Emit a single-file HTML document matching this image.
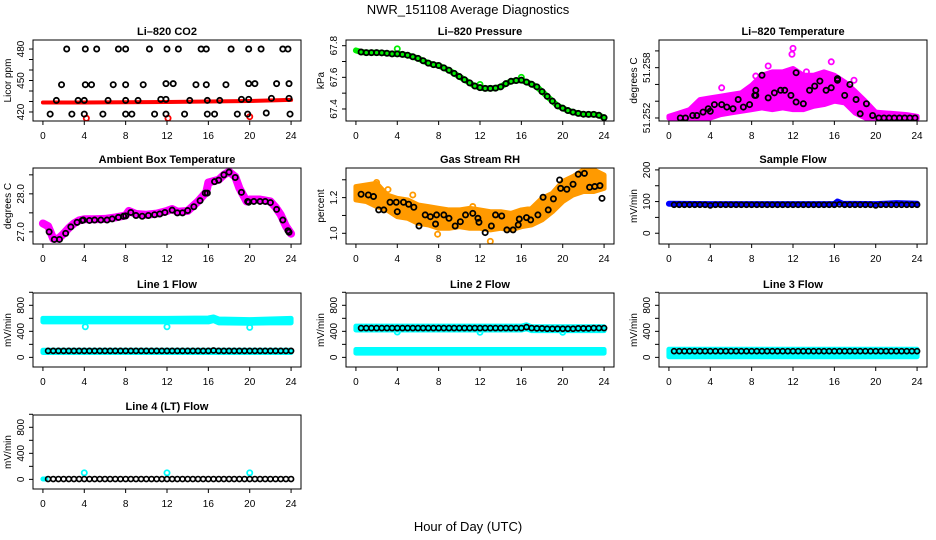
<!DOCTYPE html>
<html><head><meta charset="utf-8"><title>NWR_151108 Average Diagnostics</title>
<style>
html,body{margin:0;padding:0;background:#fff;}
svg{display:block;font-family:"Liberation Sans",sans-serif;}
</style></head>
<body>
<svg id="chart" width="936" height="540" viewBox="0 0 936 540">
<text x="468" y="14" font-size="13" text-anchor="middle">NWR_151108  Average Diagnostics</text>
<text x="468" y="531" font-size="13" text-anchor="middle">Hour of Day (UTC)</text>
</svg>
<script>
// ---------- data ----------
const xTicks = [0,4,8,12,16,20,24];
const halfHours = [0.5,1,1.5,2,2.5,3,3.5,4,4.5,5,5.5,6,6.5,7,7.5,8,8.5,9,9.5,10,10.5,11,11.5,12,12.5,13,13.5,14,14.5,15,15.5,16,16.5,17,17.5,18,18.5,19,19.5,20,20.5,21,21.5,22,22.5,23,23.5,24];
const bandHours = [0,1,2,3,4,5,6,7,8,9,10,11,12,13,14,15,16,17,18,19,20,21,22,23,24];

// CO2
const co2BlackHours = [2.3,4.1,5.2,7.3,8.0,10.3,12.0,13.1,15.3,15.8,18.2,19.9,21.1,23.2,23.7,
  1.8,4.1,4.7,6.8,8.0,9.7,11.9,12.6,14.8,15.8,17.7,19.9,20.5,22.6,23.8,
  1.3,3.4,4.0,6.3,8.0,9.2,11.4,11.9,14.2,15.9,17.1,19.2,19.9,22.1,23.8,
  0.7,2.8,4.0,5.8,8.0,8.6,10.8,11.9,13.7,15.9,16.6,18.8,19.8,21.6,23.9];
const co2BlackVals = [480,480,480,480,480,480,480,480,480,480,480,480,480,480,480,
  446,446,446,446,446,446,447,447,446,446,446,447,447,447,447,
  431,431,431,431,431,431,432,432,431,431,431,432,432,433,433,
  418,418,418,418,418,418,418,418,418,418,418,418,418,419,418];
const co2RedHours = [0,4,8,12,16,20,24];
const co2RedVals = [429,429,429.3,429.5,430,430.5,431.5];
const co2OutHours = [4.2,12.1,20.0];
const co2OutVals = [414,414,415.5];

// Pressure
const presHours = [0,0.5,1,1.5,2,2.5,3,3.5,4,4.5,5,5.5,6,6.5,7,7.5,8,8.5,9,9.5,10,10.5,11,11.5,12,12.5,13,13.5,14,14.5,15,15.5,16,16.5,17,17.5,18,18.5,19,19.5,20,20.5,21,21.5,22,22.5,23,23.5,24];
const presVals = [67.77,67.76,67.756,67.756,67.756,67.755,67.752,67.748,67.748,67.745,67.74,67.73,67.72,67.705,67.69,67.68,67.675,67.66,67.645,67.625,67.605,67.585,67.565,67.545,67.535,67.53,67.53,67.532,67.54,67.56,67.575,67.58,67.582,67.57,67.556,67.54,67.51,67.48,67.45,67.42,67.405,67.39,67.38,67.372,67.367,67.366,67.366,67.36,67.345];
const presSpikeHours = [4.0,12.0,16.0];
const presSpikeVals = [67.78,67.555,67.6];

// Li-820 temperature
const tLow = [51.2520,51.2519,51.2519,51.2520,51.2520,51.2524,51.2526,51.2528,51.2530,51.2532,51.2530,51.2532,51.2530,51.2530,51.2534,51.2536,51.2540,51.2538,51.2526,51.2520,51.2519,51.2519,51.2519,51.2519,51.2519];
const tHigh = [51.2522,51.2526,51.2530,51.2542,51.2544,51.2546,51.2548,51.2550,51.2559,51.2571,51.2575,51.2575,51.2579,51.2571,51.2571,51.2575,51.2571,51.2563,51.2552,51.2540,51.2527,51.2526,51.2525,51.2524,51.2522];
const tOutHours = [12.0,11.9,15.7,9.6,5.1,8.4,13.3,17.9];
const tOutVals = [51.2603,51.2596,51.2587,51.2582,51.2556,51.2570,51.2575,51.2565];
const tBlackHours = [1.1,1.6,2.3,2.7,3.3,3.8,4.0,4.4,5.1,5.6,6.2,6.7,7.2,7.8,8.3,8.4,8.4,9.0,9.6,10.2,10.8,11.2,11.8,12.3,12.3,13.0,13.6,14.1,14.6,15.2,15.7,16.3,16.3,17.0,17.5,18.1,18.5,19.1,19.7,20.3,20.8,21.3,21.8,22.3,22.8,23.3,23.8];
const tBlackVals = [51.2520,51.2520,51.2523,51.2523,51.2527,51.2531,51.2528,51.2536,51.2536,51.2533,51.2531,51.2542,51.2533,51.2536,51.2547,51.2553,51.2547,51.2571,51.2544,51.2550,51.2553,51.2553,51.2547,51.2574,51.2539,51.2537,51.2553,51.2558,51.2564,51.2553,51.2556,51.2567,51.2565,51.2547,51.2560,51.2542,51.2525,51.2537,51.2523,51.2520,51.2520,51.2520,51.2520,51.2520,51.2520,51.2520,51.2520];

// Ambient box temperature
const ambLineHours = [0,0.5,1,1.5,2,2.5,3,3.5,4,5,6,7,8,8.3,9,10,11,12,12.5,13,14,15,15.8,16,17,17.5,18,18.6,19,19.7,20,21,22,22.5,23,23.5,24];
const ambLineVals = [27.22,27.15,26.82,26.82,26.95,27.1,27.22,27.3,27.33,27.33,27.34,27.38,27.43,27.55,27.47,27.45,27.48,27.55,27.6,27.53,27.55,27.8,28.05,28.3,28.37,28.5,28.58,28.45,28.15,27.8,27.85,27.85,27.8,27.65,27.45,27.15,26.95];
const ambBlackHours = [0.6,1.1,1.6,2.2,2.7,3.3,3.8,3.9,4.5,5.0,5.6,6.2,6.7,7.3,7.8,8.0,8.5,9.0,9.6,10.2,10.8,11.3,11.8,12.5,13.0,13.5,14.0,14.6,15.2,15.7,15.9,16.6,17.0,17.5,18.0,18.6,19.2,19.8,19.9,20.4,21.0,21.5,22.0,22.6,23.2,23.7,23.8];
const ambBlackVals = [27.0,26.8,26.8,26.96,27.13,27.25,27.3,27.31,27.3,27.31,27.31,27.31,27.34,27.38,27.41,27.42,27.51,27.43,27.41,27.43,27.45,27.47,27.51,27.57,27.5,27.5,27.56,27.66,27.82,28.02,28.02,28.32,28.36,28.5,28.57,28.43,28.04,27.8,27.78,27.8,27.8,27.8,27.77,27.59,27.31,27.03,26.99];

// Gas stream RH
const rhLow = [1.187,1.178,1.150,1.131,1.093,1.084,1.056,1.047,1.028,1.028,1.037,1.028,1.028,1.019,1.028,1.019,1.037,1.047,1.075,1.121,1.178,1.215,1.234,1.234,1.252];
const rhHigh = [1.262,1.271,1.280,1.215,1.196,1.187,1.159,1.150,1.140,1.131,1.131,1.140,1.131,1.121,1.121,1.112,1.131,1.140,1.196,1.224,1.290,1.318,1.355,1.355,1.327];
const rhOutHours = [2.0,3.1,13.0,7.9,11.3,5.5];
const rhOutVals = [1.285,1.245,0.955,0.995,1.150,1.215];
const rhBlackHours = [0.5,1.2,1.7,2.2,2.7,3.3,3.9,4.0,4.6,5.1,5.6,6.1,6.7,7.2,7.7,7.8,8.5,9.0,9.6,10.1,10.6,11.3,11.8,11.9,12.5,13.1,13.5,14.1,14.6,15.2,15.7,15.8,16.5,16.9,17.6,18.1,18.6,19.1,19.7,19.8,20.4,21.0,21.5,22.1,22.6,23.1,23.6,23.8];
const rhBlackVals = [1.219,1.215,1.206,1.131,1.131,1.174,1.174,1.121,1.174,1.163,1.146,1.041,1.103,1.093,1.052,1.103,1.103,1.084,1.041,1.065,1.103,1.112,1.084,1.062,1.004,1.041,1.103,1.097,1.019,1.019,1.047,1.080,1.088,1.075,1.103,1.202,1.131,1.193,1.299,1.252,1.247,1.275,1.331,1.336,1.258,1.262,1.267,1.196];

// Sample flow
const sfLineHours = [0,4,8,12,16,16.3,16.8,20,22,24];
const sfLineVals = [93,92,92,92,92,100,93,92,95,93];
const sfBlack = [90,90,90,90,90,90,90,88,90,90,90,90,90,90,90,90,90,90,90,90,90,90,90,90,90,90,90,90,90,90,90,90,91,90,90,90,90,90,90,88,90,90,90,90,90,90,90,90];

// Line flows
const l1CyanHiHours = [0,4,8,12,16,16.5,17,20,22,24];
const l1CyanHiLow = [545,545,545,545,545,565,530,525,530,530];
const l1CyanHiHigh = [600,600,600,600,605,620,590,580,590,600];
const l1CyanLoHours = [0,24];
const l1CyanLoLow = [75,75];
const l1CyanLoHigh = [110,110];
const l1OutHours = [4.1,12.0,20.0];
const l1OutVals = [470,470,460];
const l1Black = [100,100,100,100,100,100,100,100,100,100,100,100,100,100,100,100,100,100,100,100,100,100,100,100,100,100,100,100,100,100,100,100,105,100,100,100,100,100,100,100,100,100,100,100,100,100,100,100];

const l2CyanHiHours = [0,16,16.5,17,24];
const l2CyanHiLow = [420,420,440,410,410];
const l2CyanHiHigh = [480,480,500,470,470];
const l2CyanLoHours = [0,24];
const l2CyanLoLow = [65,65];
const l2CyanLoHigh = [120,120];
const l2OutHours = [4.0,12.0,20.0];
const l2OutVals = [390,385,385];
const l2Black = [450,450,450,450,450,450,450,450,450,450,450,450,450,450,450,450,450,450,450,450,450,450,450,450,450,450,450,450,450,450,450,450,465,450,445,445,440,440,440,440,440,440,445,445,445,450,450,450];

const l3CyanHours = [0,24];
const l3CyanLow = [10,10];
const l3CyanHigh = [125,125];
const l3Black = [95,95,95,95,95,95,95,95,95,95,95,95,95,95,95,95,95,95,95,95,95,95,95,95,95,95,95,95,95,95,95,95,95,95,95,95,95,95,95,95,95,95,95,95,95,95,95,95];

const l4CyanHours = [0,0.3];
const l4CyanVals = [5,5];
const l4OutHours = [4.0,12.0,20.0];
const l4OutVals = [100,100,100];
const l4Black = [5,5,5,5,5,5,5,5,5,5,5,5,5,5,5,5,5,5,5,5,5,5,5,5,5,5,5,5,5,5,5,5,5,5,5,5,5,5,5,5,5,5,5,5,5,5,5,5];

// ---------- drawing ----------
const NS = "http://www.w3.org/2000/svg";
const svg = document.getElementById("chart");
const colX = [33,346,659];
const rowTop = [40,168,293,415];
const rowBot = [121,244,367,489];
const BW = 268;

function mk(tag, parent){ const e=document.createElementNS(NS,tag); parent.appendChild(e); return e; }

function makePanel(key, col, row, ymin, ymax, yTickVals, yLabelVals, title, ytitle){
  const x0=colX[col], y0=rowTop[row], y1=rowBot[row];
  const g=mk("g",svg);
  
  
  const sx=h=>x0+(h+0.96)/25.92*BW;
  const sy=v=>y1-(v-ymin)/(ymax-ymin)*(y1-y0);
  const t=mk("text",g);
  
  
  t.setAttribute("x",x0+BW/2); t.setAttribute("y",y0-5);
  t.setAttribute("text-anchor","middle"); t.setAttribute("font-size","11"); t.setAttribute("font-weight","bold");
  t.textContent=title;
  const cp=mk("clipPath",g); cp.setAttribute("id","clip-"+key);
  const cr=mk("rect",cp); cr.setAttribute("x",x0); cr.setAttribute("y",y0); cr.setAttribute("width",BW); cr.setAttribute("height",y1-y0);
  const data=mk("g",g);
  
  
  data.setAttribute("clip-path","url(#clip-"+key+")");
  const box=mk("rect",g);
  
  
  box.setAttribute("x",x0); box.setAttribute("y",y0); box.setAttribute("width",BW); box.setAttribute("height",y1-y0);
  box.setAttribute("fill","none"); box.setAttribute("stroke","#000"); box.setAttribute("stroke-width","1");
  const xa=mk("g",g);
  
  
  xTicks.forEach(h=>{
    const l=mk("line",xa); l.setAttribute("x1",sx(h)); l.setAttribute("x2",sx(h)); l.setAttribute("y1",y1); l.setAttribute("y2",y1+4); l.setAttribute("stroke","#000");
    const tx=mk("text",xa);
    
    
    tx.setAttribute("x",sx(h)); tx.setAttribute("y",y1+18); tx.setAttribute("text-anchor","middle"); tx.setAttribute("font-size","10");
    tx.textContent=h;
  });
  const ya=mk("g",g);
  
  
  yTickVals.forEach(v=>{
    const l=mk("line",ya); l.setAttribute("x1",x0-4); l.setAttribute("x2",x0); l.setAttribute("y1",sy(v)); l.setAttribute("y2",sy(v)); l.setAttribute("stroke","#000");
  });
  yLabelVals.forEach(v=>{
    const tx=mk("text",ya);
    
    
    const px=x0-9, py=sy(v);
    tx.setAttribute("transform","translate("+px+","+py+") rotate(-90)");
    tx.setAttribute("text-anchor","middle"); tx.setAttribute("font-size","10");
    tx.textContent=v;
  });
  const yt=mk("text",g);
  
  
  yt.setAttribute("transform","translate("+(x0-22)+","+((y0+y1)/2)+") rotate(-90)");
  yt.setAttribute("text-anchor","middle"); yt.setAttribute("font-size","10");
  yt.textContent=ytitle;
  return {data,sx,sy};
}

function circles(p, hours, vals, color, r, sw, name){
  const g=mk("g",p.data);
  
  
  hours.forEach((h,i)=>{
    const c=mk("circle",g);
    
    
    c.setAttribute("cx",p.sx(h)); c.setAttribute("cy",p.sy(vals[i])); c.setAttribute("r",r);
    c.setAttribute("fill","none"); c.setAttribute("stroke",color); c.setAttribute("stroke-width",sw);
  });
}
function thickLine(p, hours, vals, color, w, name){
  const pl=mk("polyline",p.data);
  
  
  pl.setAttribute("points",hours.map((h,i)=>p.sx(h)+","+p.sy(vals[i])).join(" "));
  pl.setAttribute("fill","none"); pl.setAttribute("stroke",color); pl.setAttribute("stroke-width",w);
  pl.setAttribute("stroke-linejoin","round"); pl.setAttribute("stroke-linecap","round");
}
function band(p, hours, lo, hi, color, name){
  const pts=hours.map((h,i)=>p.sx(h)+","+p.sy(hi[i])).concat(hours.slice().reverse().map((h,j)=>{const i=hours.length-1-j; return p.sx(h)+","+p.sy(lo[i]);}));
  const pg=mk("polygon",p.data);
  
  
  pg.setAttribute("points",pts.join(" "));
  pg.setAttribute("fill",color); pg.setAttribute("stroke",color); pg.setAttribute("stroke-width","5"); pg.setAttribute("stroke-linejoin","round");
}

// CO2
let p=makePanel("co2",0,0,411.4,488.6,[420,430,440,450,460,470,480],[420,450,480],"Li\u2013820 CO2","Licor ppm");
thickLine(p,co2RedHours,co2RedVals,"#ff0000",4,"co2-red-series");
circles(p,co2OutHours,co2OutVals,"#ff0000",2.6,1.8,"co2-red-outliers");
circles(p,co2BlackHours,co2BlackVals,"#000",2.6,1.8,"co2-black-series");

// Pressure
p=makePanel("pressure",1,0,67.324,67.836,[67.4,67.5,67.6,67.7,67.8],[67.4,67.6,67.8],"Li\u2013820 Pressure","kPa");
thickLine(p,presHours,presVals,"#00ee00",6,"pressure-green-series");
circles(p,presSpikeHours,presSpikeVals,"#00ee00",2.6,1.8,"pressure-green-outliers");
circles(p,halfHours,presVals.slice(1),"#000",2.6,1.8,"pressure-black-series");

// Li-820 temperature
p=makePanel("li820-temp",2,0,51.25164,51.2613,[51.252,51.254,51.256,51.258,51.260],[51.252,51.258],"Li\u2013820 Temperature","degrees C");
band(p,bandHours,tLow,tHigh,"#ff00ff","temp-magenta-series");
circles(p,tOutHours,tOutVals,"#ff00ff",2.6,1.8,"temp-magenta-outliers");
circles(p,tBlackHours,tBlackVals,"#000",2.6,1.8,"temp-black-series");

// Ambient box temperature
p=makePanel("ambient-temp",0,1,26.68,28.68,[27.0,27.5,28.0,28.5],["27.0","28.0"],"Ambient Box Temperature","degrees C");
thickLine(p,ambLineHours,ambLineVals,"#ff00ff",8,"ambient-magenta-series");
circles(p,ambBlackHours,ambBlackVals,"#000",2.6,1.8,"ambient-black-series");

// Gas stream RH
p=makePanel("gas-rh",1,1,0.94,1.366,[1.0,1.1,1.2,1.3],["1.0","1.2"],"Gas Stream RH","percent");
band(p,bandHours,rhLow,rhHigh,"#ff9a00","rh-orange-series");
circles(p,rhOutHours,rhOutVals,"#ff9a00",2.6,1.8,"rh-orange-outliers");
circles(p,rhBlackHours,rhBlackVals,"#000",2.6,1.8,"rh-black-series");

// Sample flow
p=makePanel("sample-flow",2,1,-34,206,[0,50,100,150,200],[0,100,200],"Sample Flow","mV/min");
thickLine(p,sfLineHours,sfLineVals,"#0000ff",6,"sample-flow-blue-series");
circles(p,halfHours,sfBlack,"#000",2.5,1.7,"sample-flow-black-series");

// Line 1
p=makePanel("line1-flow",0,2,-148,989,[0,200,400,600,800,1000],[0,400,800],"Line 1 Flow","mV/min");
band(p,l1CyanHiHours,l1CyanHiLow,l1CyanHiHigh,"#00ffff","line1-cyan-high-series");
band(p,l1CyanLoHours,l1CyanLoLow,l1CyanLoHigh,"#00ffff","line1-cyan-low-series");
circles(p,l1OutHours,l1OutVals,"#00ffff",2.6,1.8,"line1-cyan-outliers");
circles(p,halfHours,l1Black,"#000",2.5,1.7,"line1-black-series");

// Line 2
p=makePanel("line2-flow",1,2,-148,989,[0,200,400,600,800,1000],[0,400,800],"Line 2 Flow","mV/min");
band(p,l2CyanHiHours,l2CyanHiLow,l2CyanHiHigh,"#00ffff","line2-cyan-high-series");
band(p,l2CyanLoHours,l2CyanLoLow,l2CyanLoHigh,"#00ffff","line2-cyan-low-series");
circles(p,l2OutHours,l2OutVals,"#00ffff",2.6,1.8,"line2-cyan-outliers");
circles(p,halfHours,l2Black,"#000",2.5,1.7,"line2-black-series");

// Line 3
p=makePanel("line3-flow",2,2,-148,989,[0,200,400,600,800,1000],[0,400,800],"Line 3 Flow","mV/min");
band(p,l3CyanHours,l3CyanLow,l3CyanHigh,"#00ffff","line3-cyan-series");
circles(p,halfHours,l3Black,"#000",2.5,1.7,"line3-black-series");

// Line 4
p=makePanel("line4-flow",0,3,-148,989,[0,200,400,600,800,1000],[0,400,800],"Line 4 (LT) Flow","mV/min");
thickLine(p,l4CyanHours,l4CyanVals,"#00ffff",5,"line4-cyan-series");
circles(p,l4OutHours,l4OutVals,"#00ffff",2.6,1.8,"line4-cyan-outliers");
circles(p,halfHours,l4Black,"#000",2.5,1.7,"line4-black-series");
</script>
</body></html>
